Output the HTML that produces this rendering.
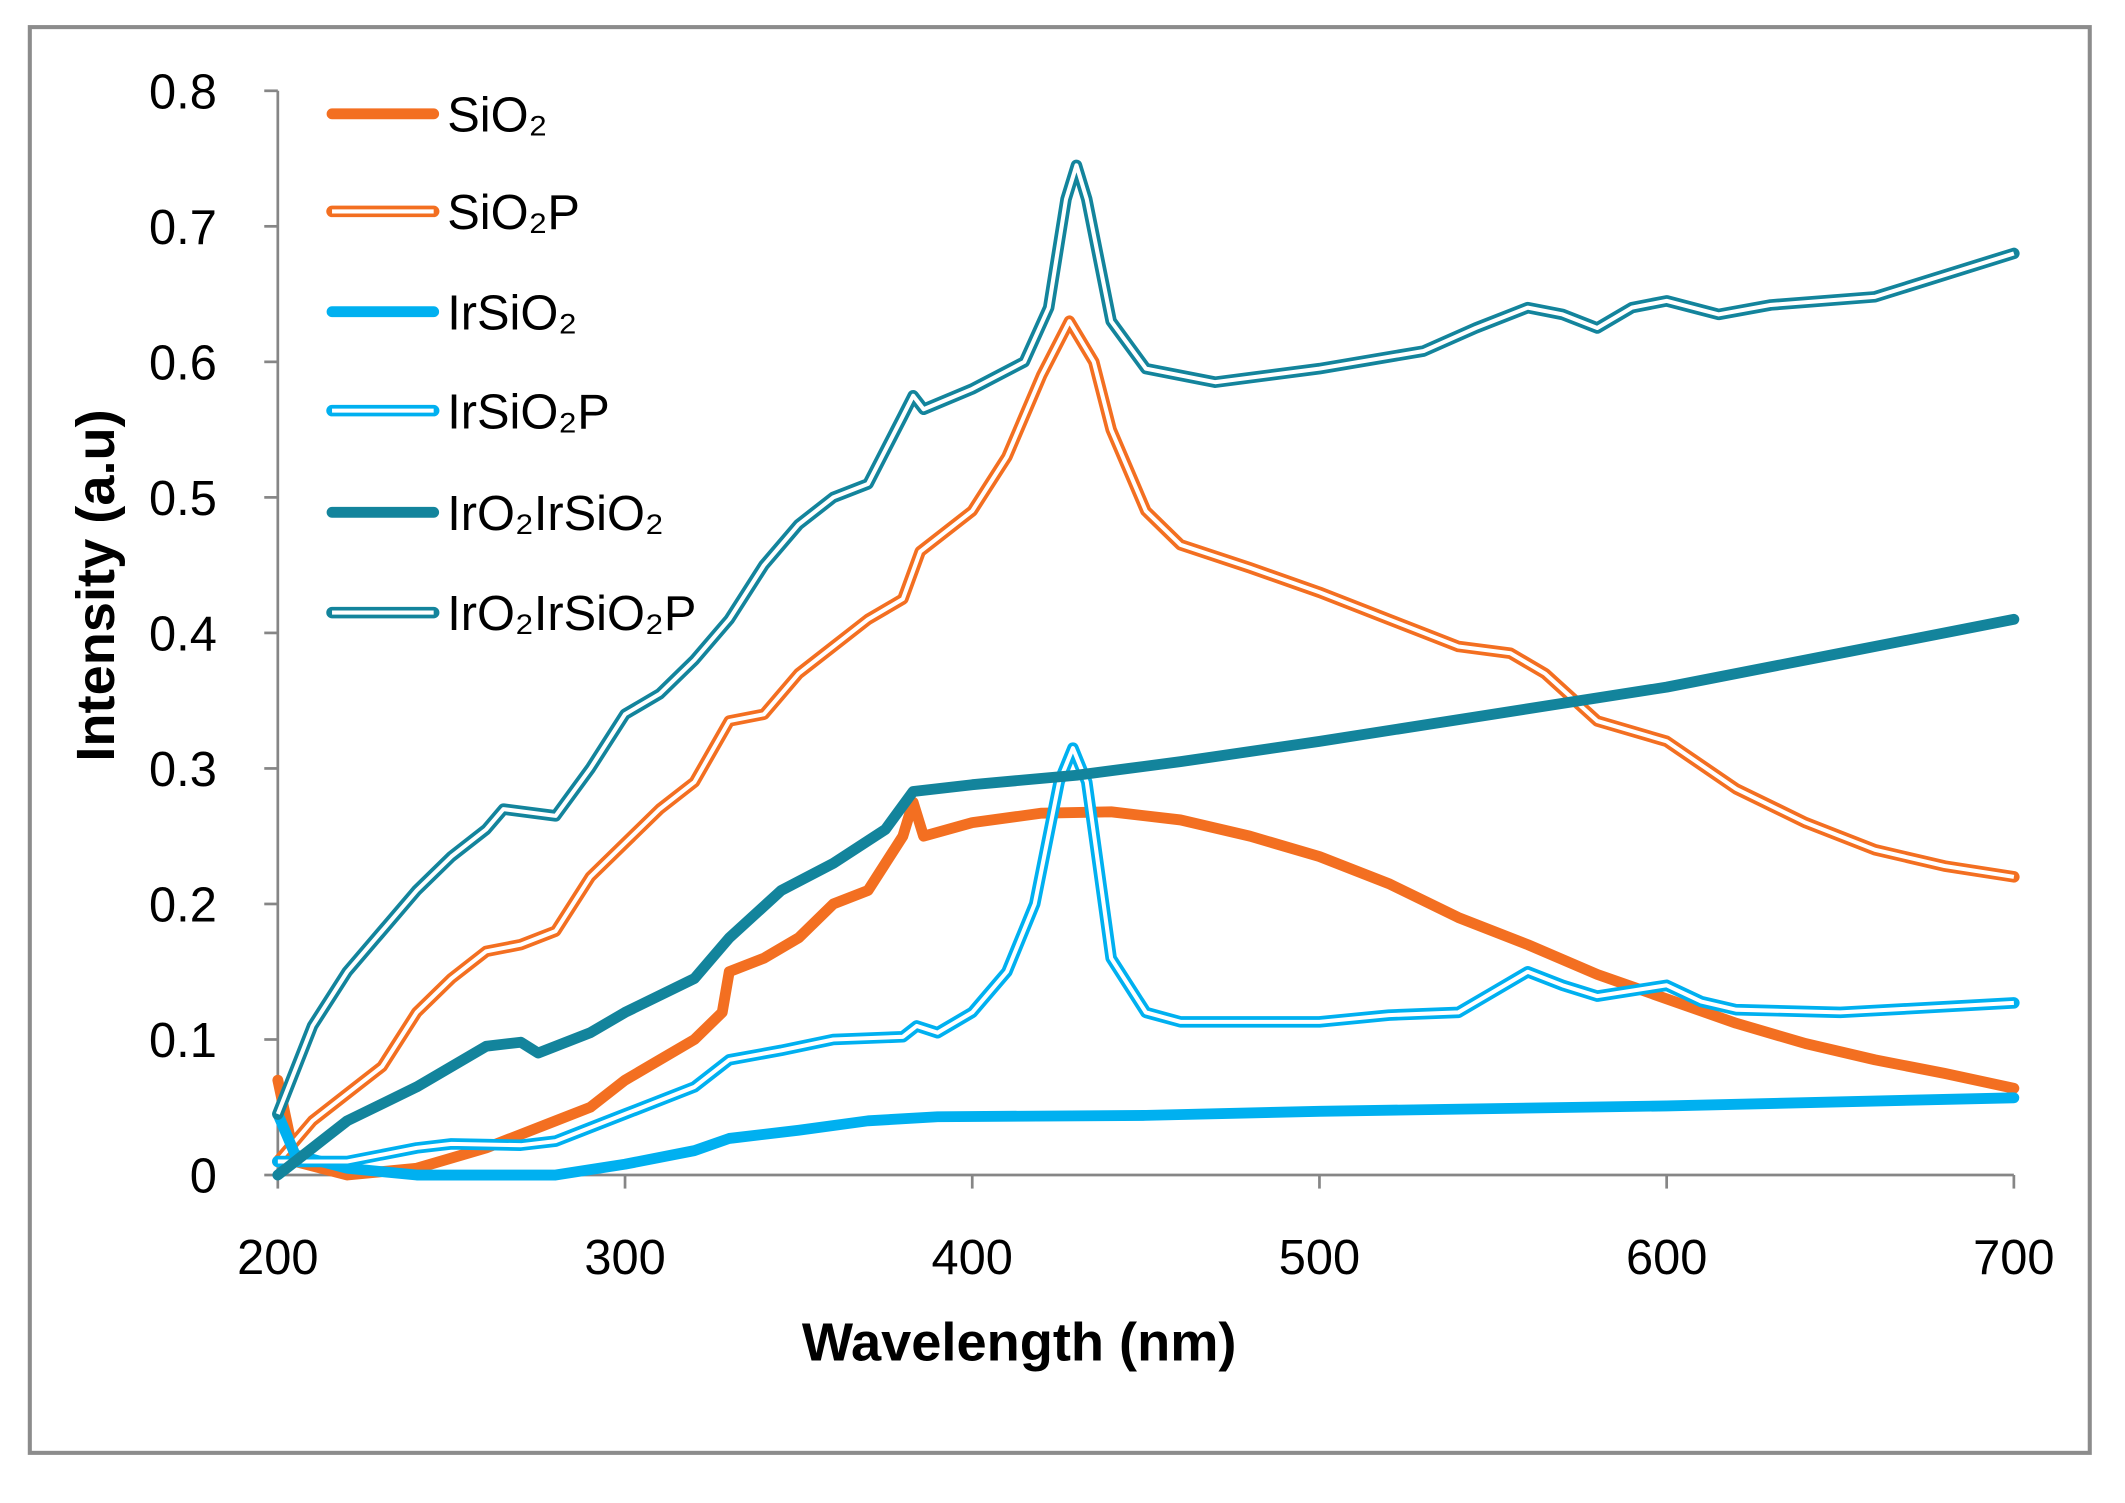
<!DOCTYPE html>
<html><head><meta charset="utf-8"><style>
html,body{margin:0;padding:0;background:#fff}
svg{display:block}
text{font-family:"Liberation Sans",sans-serif}
</style></head><body>
<svg id="chart" width="2125" height="1503" viewBox="0 0 1568 1109" preserveAspectRatio="none">
<rect x="22" y="20" width="1520" height="1052" fill="#fff" stroke="#8c8c8c" stroke-width="3"/>
<g id="axes"></g>
<g id="series"></g>
<g id="legend"></g>
<text x="752" y="1004" text-anchor="middle" font-size="40" font-weight="bold">Wavelength (nm)</text>
<text transform="translate(84,432) rotate(-90)" text-anchor="middle" font-size="40" font-weight="bold">Intensity (a.u)</text>
</svg>
<script>
const xTicks=[200,300,400,500,600,700];
const yTicks=[0,0.1,0.2,0.3,0.4,0.5,0.6,0.7,0.8];
const yTickLabels=["0","0.1","0.2","0.3","0.4","0.5","0.6","0.7","0.8"];
const seriesNames=["SiO₂","SiO₂P","IrSiO₂","IrSiO₂P","IrO₂IrSiO₂","IrO₂IrSiO₂P"];
const sio2X=[200,205,220,240,260,280,290,300,310,320,328,330,340,350,360,370,380,383,386,400,420,440,460,480,500,520,540,560,580,600,620,640,660,680,700];
const sio2Y=[0.07,0.01,0,0.005,0.02,0.04,0.05,0.07,0.085,0.1,0.12,0.15,0.16,0.175,0.2,0.21,0.25,0.275,0.25,0.26,0.267,0.268,0.262,0.25,0.235,0.215,0.19,0.17,0.148,0.13,0.112,0.097,0.085,0.075,0.064];
const sio2pX=[200,210,220,230,240,250,260,270,280,290,300,310,320,330,340,350,360,370,380,385,400,410,420,428,435,440,450,460,480,500,520,540,555,565,580,600,620,640,660,680,700];
const sio2pY=[0.01,0.04,0.06,0.08,0.12,0.145,0.165,0.17,0.18,0.22,0.245,0.27,0.29,0.335,0.34,0.37,0.39,0.41,0.425,0.46,0.49,0.53,0.59,0.63,0.6,0.55,0.49,0.465,0.448,0.43,0.41,0.39,0.385,0.37,0.335,0.32,0.285,0.26,0.24,0.228,0.22];
const irsio2X=[200,205,220,240,280,300,320,330,350,370,390,450,500,600,700];
const irsio2Y=[0.045,0.015,0.005,0,0,0.008,0.018,0.027,0.033,0.04,0.043,0.044,0.047,0.051,0.057];
const irsio2pX=[200,220,240,250,270,280,300,320,330,345,360,380,384,390,400,410,418,425,429,433,440,450,460,500,520,540,550,560,570,580,600,610,620,650,700];
const irsio2pY=[0.01,0.01,0.02,0.023,0.022,0.025,0.045,0.065,0.085,0.092,0.1,0.102,0.11,0.105,0.12,0.15,0.2,0.29,0.315,0.29,0.16,0.12,0.113,0.113,0.118,0.12,0.135,0.15,0.14,0.132,0.14,0.128,0.122,0.12,0.127];
const iro2X=[200,210,220,240,260,270,275,290,300,320,330,345,360,375,383,400,430,460,500,550,600,650,700];
const iro2Y=[0,0.02,0.04,0.065,0.095,0.098,0.09,0.105,0.12,0.145,0.175,0.21,0.23,0.255,0.283,0.288,0.295,0.305,0.32,0.34,0.36,0.385,0.41];
const iro2pX=[200,210,220,240,250,260,265,280,290,300,310,320,330,340,350,360,370,380,383,386,400,415,422,427,430,433,440,450,470,500,530,545,560,570,580,590,600,615,630,660,700];
const iro2pY=[0.045,0.11,0.15,0.21,0.235,0.255,0.27,0.265,0.3,0.34,0.355,0.38,0.41,0.45,0.48,0.5,0.51,0.56,0.575,0.565,0.58,0.6,0.64,0.72,0.745,0.72,0.63,0.595,0.585,0.595,0.608,0.625,0.64,0.635,0.625,0.64,0.645,0.635,0.642,0.648,0.68];

const NS="http://www.w3.org/2000/svg";
const X0=205,X1=1486,Y0=867,Y1=67;
function sx(v){return X0+(v-200)/500*(X1-X0);}
function sy(v){return Y0-v/0.8*(Y0-Y1);}
function mk(tag,attrs,parent){const e=document.createElementNS(NS,tag);for(const k in attrs)e.setAttribute(k,attrs[k]);parent.appendChild(e);return e;}
const axes=document.getElementById('axes');
let ax=mk('line',{x1:X0,y1:Y1,x2:X0,y2:Y0,stroke:'#868686','stroke-width':2},axes);


let bx=mk('line',{x1:X0,y1:Y0,x2:X1,y2:Y0,stroke:'#868686','stroke-width':2},axes);


yTicks.forEach((t,i)=>{
  const l=mk('line',{x1:X0-10,y1:sy(t),x2:X0,y2:sy(t),stroke:'#868686','stroke-width':2},axes);
  
  
  const tx=mk('text',{x:160,y:sy(t)+13,'text-anchor':'end','font-size':36},axes);
  tx.textContent=yTickLabels[i];
  
  
});
xTicks.forEach(t=>{
  const l=mk('line',{x1:sx(t),y1:Y0,x2:sx(t),y2:Y0+10,stroke:'#868686','stroke-width':2},axes);
  
  
  const tx=mk('text',{x:sx(t),y:940,'text-anchor':'middle','font-size':36},axes);
  tx.textContent=String(t);
  
  
});
const styles=[
 {xs:sio2X,ys:sio2Y,c:'#f36f21',dbl:false,n:'series-sio2'},
 {xs:sio2pX,ys:sio2pY,c:'#f36f21',dbl:true,n:'series-sio2p'},
 {xs:irsio2X,ys:irsio2Y,c:'#00b0f0',dbl:false,n:'series-irsio2'},
 {xs:irsio2pX,ys:irsio2pY,c:'#00b0f0',dbl:true,n:'series-irsio2p'},
 {xs:iro2X,ys:iro2Y,c:'#13849c',dbl:false,n:'series-iro2irsio2'},
 {xs:iro2pX,ys:iro2pY,c:'#13849c',dbl:true,n:'series-iro2irsio2p'}
];
const sg=document.getElementById('series');
function drawLine(parent,d,s,name){
  const p=mk('path',{d:d,fill:'none',stroke:s.c,'stroke-width':s.dbl?8.5:8,'stroke-linejoin':'round','stroke-linecap':'round'},parent);
  
  
  if(s.dbl){
    const w=mk('path',{d:d,fill:'none',stroke:'#fff','stroke-width':3,'stroke-linejoin':'round'},parent);
    
    
  }
}
styles.forEach(s=>{
  const d=s.xs.map((x,i)=>(i?'L':'M')+sx(x).toFixed(1)+','+sy(s.ys[i]).toFixed(1)).join(' ');
  drawLine(sg,d,s,s.n);
});
const lg=document.getElementById('legend');
const rows=[84,156,230,303,378,452];
styles.forEach((s,i)=>{
  const y=rows[i];
  drawLine(lg,`M245,${y} L320,${y}`,s,'legend-line-'+i);
  const t=mk('text',{x:330,y:y+13,'font-size':36},lg);
  t.textContent=seriesNames[i];
  
  
});
</script>
</body></html>
